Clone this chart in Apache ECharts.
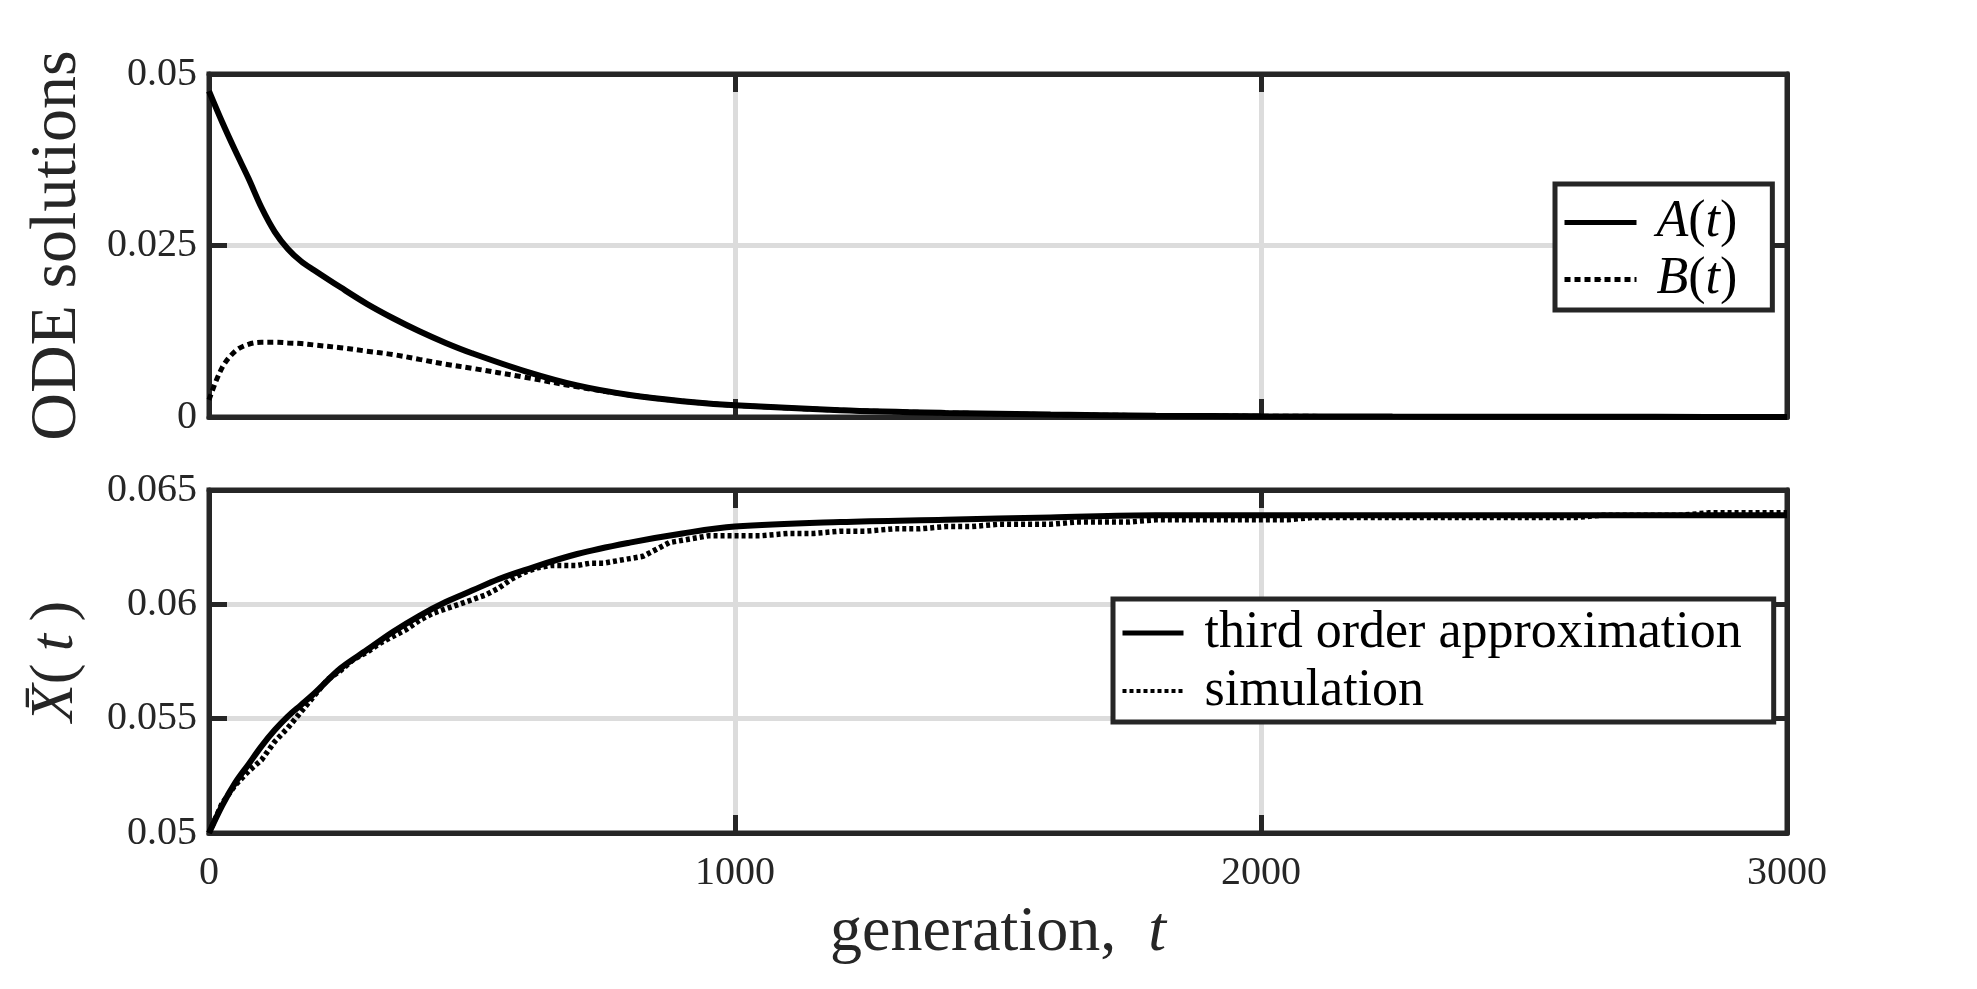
<!DOCTYPE html>
<html><head><meta charset="utf-8">
<script src="https://cdn.jsdelivr.net/npm/echarts@6/dist/echarts.min.js"></script>
<style>html,body{margin:0;padding:0;background:#fff}#c{width:1977px;height:989px}</style>
</head><body><div id="c"></div><script>
// ---- data ----
const xTickLabels = ['0', '1000', '2000', '3000'];
const topYTicks = ['0', '0.025', '0.05'];
const botYTicks = ['0.05', '0.055', '0.06', '0.065'];

const tODE = [0,25,50,75,100,125,150,175,200,250,300,350,400,450,500,600,700,800,900,1000,1200,1400,1600,1800,2000,2250,2500,2750,3000];
const A_t  = [0.0475,0.0430,0.0388,0.0348,0.0305,0.0270,0.0245,0.0227,0.0214,0.0189,0.0165,0.0144,0.0125,0.0108,0.0093,0.0067,0.0046,0.0032,0.0023,0.0017,0.0010,0.0006,0.00035,0.0002,0.00012,0.00006,0.00003,0.00002,0.00001];
const B_t  = [0.0025,0.0072,0.0096,0.0106,0.0109,0.0109,0.0108,0.0107,0.0105,0.0101,0.0096,0.0091,0.0084,0.0077,0.0071,0.0058,0.0044,0.0032,0.0023,0.0017,0.0010,0.0006,0.00035,0.0002,0.00012,0.00006,0.00003,0.00002,0.00001];

const tApprox = [0,25,50,75,100,125,150,175,200,250,300,350,400,450,500,550,600,700,800,900,1000,1200,1400,1600,1800,2000,2500,3000];
const approx  = [0.0500,0.0512,0.0522,0.0530,0.0538,0.0545,0.0551,0.0556,0.0561,0.0572,0.0580,0.0588,0.0595,0.0601,0.0606,0.0611,0.0615,0.0622,0.0627,0.0631,0.0634,0.0636,0.0637,0.0638,0.0639,0.0639,0.0639,0.0639];

const tSim = [0,25,50,75,100,125,150,175,200,225,250,275,300,325,350,375,400,425,450,475,500,525,550,575,600,625,650,675,700,725,750,775,800,825,850,875,900,925,950,975,1000,
  1050,1100,1150,1200,1250,1300,1350,1400,1450,1500,1550,1600,1650,1700,1750,1800,1850,1900,1950,2000,
  2050,2100,2150,2200,2250,2300,2350,2400,2450,2500,2550,2600,2650,2700,2750,2800,2850,2900,2950,3000];
const sim = [0.0500,0.0513,0.0521,0.0527,0.0532,0.0540,0.0546,0.0553,0.0560,0.0567,0.0571,0.0576,0.0579,0.0583,0.0586,0.0589,0.0593,0.0596,0.0598,0.0600,0.0602,0.0604,0.0607,0.0611,0.0614,0.0616,0.0617,0.0617,0.0617,0.0618,0.0618,0.0619,0.0620,0.0621,0.0624,0.0627,0.0628,0.0629,0.0630,0.0630,0.0630,
  0.0630,0.0631,0.0631,0.0632,0.0632,0.0633,0.0633,0.0634,0.0634,0.0635,0.0635,0.0635,0.0636,0.0636,0.0636,0.0637,0.0637,0.0637,0.0637,0.0637,
  0.0637,0.0638,0.0638,0.0638,0.0638,0.0638,0.0638,0.0638,0.0638,0.0638,0.0638,0.0638,0.0639,0.0639,0.0639,0.0639,0.0640,0.0640,0.0640,0.0640];

// ---- helpers ----
const zip = (xs, ys) => xs.map((x, i) => [x, ys[i]]);
const FONT = '"Liberation Serif", "Times New Roman", serif';
const AX = '#262626';
const GRIDC = '#dcdcdc';

function xAx(grid, pos, labels, name) {
  return {
    type: 'value', gridIndex: grid, position: pos, min: 0, max: 3000, interval: 1000,
    axisLine: { show: true, onZero: false, lineStyle: { color: AX, width: 5 } },
    axisTick: { show: true, inside: true, length: 18, lineStyle: { color: AX, width: 5 } },
    axisLabel: labels ? { show: true, margin: 20, fontFamily: FONT, fontSize: 40, color: AX,
      formatter: v => xTickLabels[Math.round(v / 1000)] } : { show: false },
    splitLine: pos === 'bottom' ? { show: true, showMinLine: false, showMaxLine: false, lineStyle: { color: GRIDC, width: 5 } } : { show: false },
    name: name || '', nameLocation: 'middle', nameGap: 68,
    nameTextStyle: { fontFamily: FONT, fontSize: 64, color: AX, lineHeight: 64,
      rich: { i: { fontFamily: FONT, fontSize: 64, fontStyle: 'italic', color: AX },
              n: { fontFamily: FONT, fontSize: 64, color: AX } } }
  };
}
function yAx(grid, pos, min, max, interval, ticks, name, gap) {
  return {
    type: 'value', gridIndex: grid, position: pos, min: min, max: max, interval: interval,
    axisLine: { show: true, onZero: false, lineStyle: { color: AX, width: 5 } },
    axisTick: { show: true, inside: true, length: 18, lineStyle: { color: AX, width: 5 } },
    axisLabel: pos === 'left' ? { show: true, margin: 12, fontFamily: FONT, fontSize: 40, color: AX,
      formatter: v => ticks[Math.round((v - min) / interval)] } : { show: false },
    splitLine: pos === 'left' ? { show: true, showMinLine: false, showMaxLine: false, lineStyle: { color: GRIDC, width: 5 } } : { show: false },
    name: name || '', nameLocation: 'middle', nameRotate: 90, nameGap: gap || 0,
    nameTextStyle: { fontFamily: FONT, fontSize: 64, color: AX,
      rich: { i: { fontFamily: FONT, fontSize: 62, fontStyle: 'italic', color: AX },
              n: { fontFamily: FONT, fontSize: 62, color: AX },
              m: { fontFamily: FONT, fontSize: 66, color: AX } } }
  };
}

const chart = echarts.init(document.getElementById('c'), null, { renderer: 'canvas' });
const legendRich = {
  f: { fontFamily: FONT, fontSize: 52, fontStyle: 'italic', color: '#000', padding: [0, 0, 0, 15] },
  i: { fontFamily: FONT, fontSize: 52, fontStyle: 'italic', color: '#000' },
  n: { fontFamily: FONT, fontSize: 52, color: '#000' },
  p: { fontFamily: FONT, fontSize: 52, color: '#000', padding: [0, 0, 0, 16] }
};
chart.setOption({
  animation: false,
  backgroundColor: '#fff',
  grid: [
    { left: 209, top: 74, width: 1578, height: 343, show: true, borderColor: AX, borderWidth: 5, backgroundColor: '#fff' },
    { left: 209, top: 490, width: 1578, height: 343, show: true, borderColor: AX, borderWidth: 5, backgroundColor: '#fff' }
  ],
  xAxis: [
    xAx(0, 'bottom', false),
    xAx(0, 'top', false),
    xAx(1, 'bottom', true, '{n|generation,  }{i|t}'),
    xAx(1, 'top', false)
  ],
  yAxis: [
    yAx(0, 'left', 0, 0.05, 0.025, topYTicks, '{m|ODE solutions}', 118),
    yAx(0, 'right', 0, 0.05, 0.025, topYTicks),
    yAx(1, 'left', 0.05, 0.065, 0.005, botYTicks, '{i|X\u0304}{n|(\u2009}{i|t}{n|\u2009)}', 122),
    yAx(1, 'right', 0.05, 0.065, 0.005, botYTicks)
  ],
  legend: [
    { data: [
        { name: 'A(t)', lineStyle: { width: 5, type: 'solid', color: '#000' } },
        { name: 'B(t)', lineStyle: { width: 5, type: [6, 4], color: '#000' } }
      ],
      orient: 'vertical', left: 1555, top: 184,
      padding: [10, 35, 2, 7], itemWidth: 72, itemHeight: 2, itemGap: 0,
      borderColor: AX, borderWidth: 5, backgroundColor: '#fff', borderRadius: 0,
      textStyle: { fontFamily: FONT, fontSize: 52, lineHeight: 57, color: '#000', rich: legendRich },
      formatter: n => n === 'A(t)' ? '{f|A}{n|(}{i|t}{n|)}' : '{f|B}{n|(}{i|t}{n|)}' },
    { data: [
        { name: 'third order approximation', lineStyle: { width: 5, type: 'solid', color: '#000' } },
        { name: 'simulation', lineStyle: { width: 4, type: [4, 3], color: '#000' } }
      ],
      orient: 'vertical', left: 1113, top: 599,
      padding: [5, 32, 2, 7], itemWidth: 61, itemHeight: 2, itemGap: 0,
      borderColor: AX, borderWidth: 5, backgroundColor: '#fff', borderRadius: 0,
      textStyle: { fontFamily: FONT, fontSize: 52, lineHeight: 58, color: '#000', rich: legendRich },
      formatter: n => '{p|' + n + '}' }
  ],
  series: [
    { name: 'A(t)', type: 'line', xAxisIndex: 0, yAxisIndex: 0, data: zip(tODE, A_t), symbol: 'none', smooth: 0.35,
      lineStyle: { color: '#000', width: 6 }, itemStyle: { color: '#000' } },
    { name: 'B(t)', type: 'line', xAxisIndex: 0, yAxisIndex: 0, data: zip(tODE, B_t), symbol: 'none', smooth: 0.35,
      lineStyle: { color: '#000', width: 5, type: [6, 4] }, itemStyle: { color: '#000' } },
    { name: 'third order approximation', type: 'line', xAxisIndex: 2, yAxisIndex: 2, data: zip(tApprox, approx), symbol: 'none', smooth: 0.35,
      lineStyle: { color: '#000', width: 6 }, itemStyle: { color: '#000' } },
    { name: 'simulation', type: 'line', xAxisIndex: 2, yAxisIndex: 2, data: zip(tSim, sim), symbol: 'none',
      lineStyle: { color: '#000', width: 5.5, type: [4, 3] }, itemStyle: { color: '#000' } }
  ]
});
</script></body></html>
